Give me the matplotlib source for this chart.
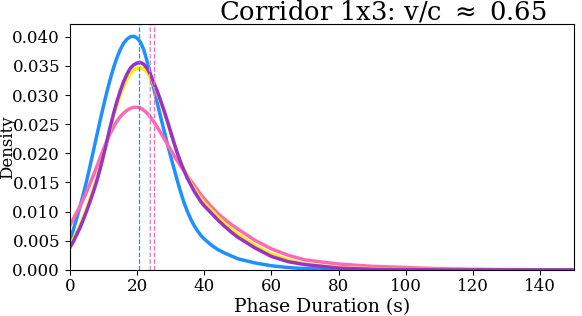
import matplotlib.pyplot as plt
import numpy as np

# duration grid (s) and densities
x = list(range(0, 41)) + [42, 44, 46, 48, 50, 55, 60, 65, 70, 80, 90, 100,
                          110, 120, 130, 140, 150]

blue = [0.0050, 0.0068, 0.0088, 0.0108, 0.0130, 0.0153, 0.0178, 0.0204, 0.0230,
        0.0256, 0.0281, 0.0305, 0.0327, 0.0347, 0.0364, 0.0378, 0.0389, 0.0396,
        0.0400, 0.0401, 0.0398, 0.0391, 0.0378, 0.0358, 0.0335, 0.0311, 0.0287,
        0.0263, 0.0240, 0.0217, 0.0195, 0.0174, 0.0153, 0.0133, 0.0115, 0.0100,
        0.0087, 0.0076, 0.0067, 0.0059, 0.0053,
        0.0043, 0.0035, 0.0029, 0.0024, 0.0019, 0.0012, 0.0007, 0.0004, 0.0002,
        0.0001, 0.00005, 0.0, 0.0, 0.0, 0.0, 0.0, 0.0]

yellow = [0.0042, 0.0052, 0.0064, 0.0076, 0.0090, 0.0105, 0.0121, 0.0138, 0.0156,
          0.0175, 0.0197, 0.0220, 0.0243, 0.0264, 0.0283, 0.0300, 0.0315, 0.0327,
          0.0337, 0.0343, 0.0346, 0.0347, 0.0345, 0.0339, 0.0330, 0.0318, 0.0304,
          0.0289, 0.0272, 0.0255, 0.0236, 0.0218, 0.0201, 0.0185, 0.0172, 0.0160,
          0.0149, 0.0139, 0.0130, 0.0122, 0.0115,
          0.0103, 0.0091, 0.0080, 0.0070, 0.0061, 0.0042, 0.0027, 0.0017, 0.0010,
          0.0004, 0.0002, 0.0001, 0.00005, 0.0, 0.0, 0.0, 0.0]

purple = [0.0038, 0.0048, 0.0060, 0.0072, 0.0086, 0.0101, 0.0117, 0.0134, 0.0152,
          0.0173, 0.0196, 0.0220, 0.0245, 0.0268, 0.0289, 0.0307, 0.0323, 0.0336,
          0.0346, 0.0352, 0.0355, 0.0356, 0.0353, 0.0346, 0.0335, 0.0321, 0.0307,
          0.0291, 0.0274, 0.0256, 0.0237, 0.0218, 0.0200, 0.0184, 0.0170, 0.0157,
          0.0146, 0.0135, 0.0126, 0.0117, 0.0110,
          0.0098, 0.0086, 0.0075, 0.0065, 0.0056, 0.0038, 0.0023, 0.0014, 0.0009,
          0.0003, 0.0001, 0.00005, 0.0, 0.0, 0.0, 0.0, 0.0]

pink = [0.0076, 0.0087, 0.0098, 0.0109, 0.0121, 0.0134, 0.0148, 0.0162, 0.0177,
        0.0192, 0.0207, 0.0221, 0.0234, 0.0245, 0.0255, 0.0263, 0.0269, 0.0274,
        0.0277, 0.0279, 0.0279, 0.0278, 0.0274, 0.0269, 0.0262, 0.0254, 0.0245,
        0.0236, 0.0226, 0.0216, 0.0206, 0.0196, 0.0187, 0.0178, 0.0170, 0.0161,
        0.0153, 0.0145, 0.0137, 0.0129, 0.0122,
        0.0109, 0.0097, 0.0087, 0.0078, 0.0070, 0.0051, 0.0036, 0.0025, 0.0017,
        0.0010, 0.0006, 0.0004, 0.0002, 0.0001, 0.00005, 0.00002, 0.0]

# mean durations (dashed lines)
means = {'blue': 20.6, 'yellow': 23.7, 'purple': 23.8, 'pink': 25.0}
colors = {'blue': '#1e90ff', 'yellow': '#ffee00', 'purple': '#9932cc', 'pink': '#ff69b4'}

plt.rcParams['font.family'] = 'DejaVu Serif'

fig = plt.figure(figsize=(5.82, 3.16), dpi=100)
ax = fig.add_axes([0.120, 0.146, 0.866, 0.778])

ax.plot(x, blue, color=colors['blue'], lw=2.5)
ax.plot(x, pink, color=colors['pink'], lw=2.5)
ax.plot(x, yellow, color=colors['yellow'], lw=2.5)
ax.plot(x, purple, color=colors['purple'], lw=2.5)

ax.axvline(means['blue'], color=colors['blue'], ls='--', lw=0.9)
ax.axvline(means['yellow'], color=colors['yellow'], ls='--', lw=0.9, alpha=0.7)
ax.axvline(means['purple'], color=colors['purple'], ls='--', lw=0.9, alpha=0.5)
ax.axvline(means['pink'], color=colors['pink'], ls='--', lw=0.9)

ax.set_xlim(0, 150)
ax.set_ylim(0, 0.0422)
yt = np.arange(0, 0.041, 0.005)
ax.set_yticks(yt)
ax.set_yticklabels(['%.3f' % v for v in yt])
ax.tick_params(labelsize=12)
ax.tick_params(axis='x', pad=2)

ax.set_xlabel('Phase Duration (s)', fontsize=13.5)
ax.xaxis.set_label_coords(0.5, -0.114)
ax.set_ylabel('Density', fontsize=12)
ax.yaxis.set_label_coords(-0.106, 0.5)
ax.set_title(r'Corridor 1x3: v/c $\approx$ 0.65', fontsize=18.5, x=0.621, pad=1)

fig.savefig('out.png', dpi=100)
